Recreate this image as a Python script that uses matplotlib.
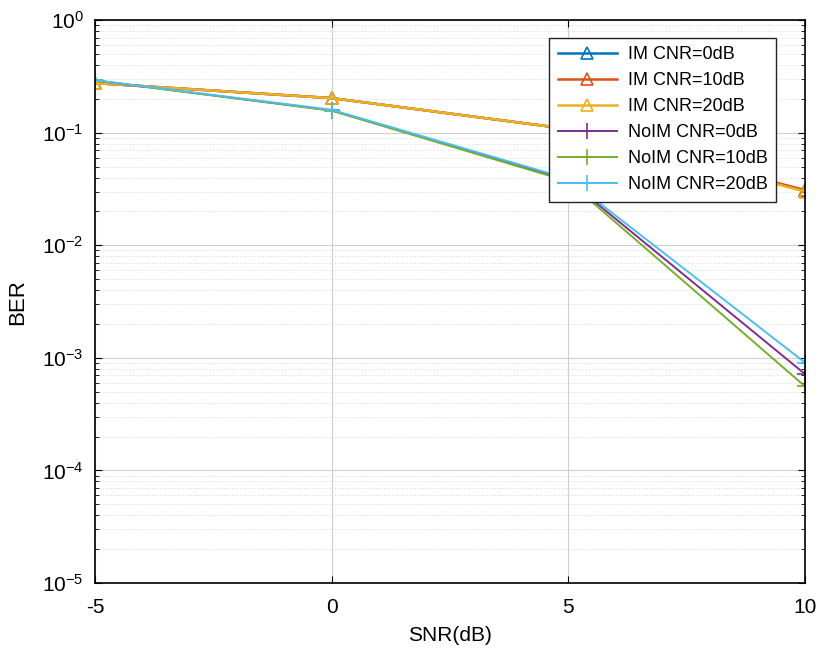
import matplotlib
matplotlib.use('Agg')
import matplotlib.pyplot as plt
from matplotlib.ticker import LogLocator, NullFormatter

plt.rcParams['font.family'] = ['Liberation Sans', 'DejaVu Sans']
plt.rcParams['axes.unicode_minus'] = False

snr = [-5, 0, 5, 10]
labels = ["IM CNR=0dB", "IM CNR=10dB", "IM CNR=20dB",
          "NoIM CNR=0dB", "NoIM CNR=10dB", "NoIM CNR=20dB"]
ber_im_0 = [0.276, 0.203, 0.108, 0.0305]
ber_im_10 = [0.276, 0.203, 0.108, 0.0310]
ber_im_20 = [0.276, 0.203, 0.108, 0.0300]
ber_noim_0 = [0.292, 0.158, 0.038, 0.00072]
ber_noim_10 = [0.291, 0.157, 0.037, 0.00056]
ber_noim_20 = [0.293, 0.160, 0.039, 0.00091]

colors = ['#0072BD', '#D95319', '#EDB120', '#7E2F8E', '#77AC30', '#4DBEEE']

fig = plt.figure(figsize=(8.18, 6.5), dpi=100)
ax = fig.add_axes([0.116, 0.103, 0.868, 0.866])

series = [ber_im_0, ber_im_10, ber_im_20, ber_noim_0, ber_noim_10, ber_noim_20]
for i, (y, lab) in enumerate(zip(series, labels)):
    if i < 3:
        ax.semilogy(snr, y, color=colors[i], marker='^', markersize=9,
                    markerfacecolor='none', markeredgewidth=1.2, lw=1.8, label=lab)
    else:
        ax.semilogy(snr, y, color=colors[i], marker='+', markersize=12,
                    markeredgewidth=1.2, lw=1.4, label=lab)

ax.set_xlim(-5, 10)
ax.set_ylim(1e-5, 1)
ax.set_xticks([-5, 0, 5, 10])
ax.yaxis.set_major_locator(LogLocator(base=10, numticks=10))
ax.yaxis.set_minor_locator(LogLocator(base=10, subs=range(2, 10), numticks=20))
ax.yaxis.set_minor_formatter(NullFormatter())
ax.grid(True, which='major', color='#d0d0d0', lw=0.8)
ax.grid(True, which='minor', axis='y', color='#dcdcdc', lw=0.7, ls=':')
ax.tick_params(which='both', direction='in', top=True, right=True, labelsize=15)
ax.tick_params(axis='x', pad=11)
ax.tick_params(axis='y', pad=8)
ax.tick_params(which='major', length=5)
ax.tick_params(which='minor', length=3)
for s in ax.spines.values():
    s.set_linewidth(1.2)

ax.set_xlabel("SNR(dB)", fontsize=15, labelpad=6)
ax.set_ylabel("BER", fontsize=16, labelpad=10)

leg = ax.legend(loc='upper right', bbox_to_anchor=(0.972, 0.984), fontsize=13,
                fancybox=False, framealpha=1, edgecolor='#222222',
                handlelength=3.3, borderpad=0.45, labelspacing=0.5,
                handletextpad=0.6)
leg.get_frame().set_linewidth(1.0)

fig.savefig("out.png", dpi=100)
